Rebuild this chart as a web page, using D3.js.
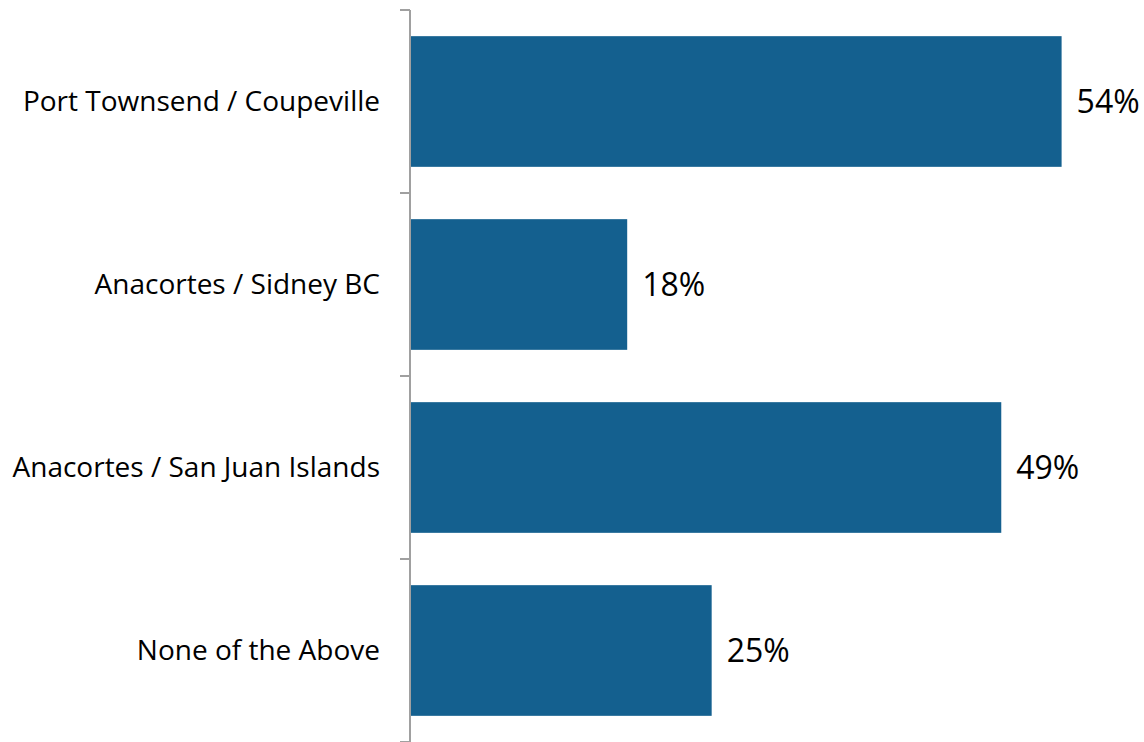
<!DOCTYPE html>
<html>
<head>
<meta charset="utf-8">
<script src="https://cdn.jsdelivr.net/npm/d3@7"></script>
<style>
  html, body { margin: 0; padding: 0; background: #fff; }
  svg { display: block; }
  text { font-family: "Open Sans", sans-serif; fill: #000; }
</style>
</head>
<body>
<svg id="chart" width="1144" height="742"></svg>
<script>
const categories = ["Port Townsend / Coupeville", "Anacortes / Sidney BC", "Anacortes / San Juan Islands", "None of the Above"];
const values = [54, 18, 49, 25];
const valueLabels = ["54%", "18%", "49%", "25%"];
const xDomain = [0, 60];

(function () {
const svg = d3.select("#chart");
const mLeft = 410, mTop = 10, mBottom = 742, mRight = 1134;

const y = d3.scaleBand().domain(categories).range([mTop, mBottom])
  .paddingInner(0.286).paddingOuter(0.143);
const x = d3.scaleLinear().domain(xDomain).range([mLeft, mRight]);

const data = categories.map((c, i) => ({ c, v: values[i], label: valueLabels[i] }));

svg.selectAll("rect.bar").data(data).enter().append("rect")
  .attr("class", "bar")
  .attr("x", x(0))
  .attr("y", d => y(d.c))
  .attr("width", d => x(d.v) - x(0))
  .attr("height", y.bandwidth())
  .attr("fill", "#14608f");

svg.append("line")
  .attr("x1", mLeft).attr("x2", mLeft)
  .attr("y1", mTop).attr("y2", mBottom)
  .attr("stroke", "#a0a0a0").attr("stroke-width", 2);

const step = y.step();
const bounds = d3.range(categories.length + 1).map(i => mTop + i * step);
svg.selectAll("line.tick").data(bounds).enter().append("line")
  .attr("class", "tick")
  .attr("x1", mLeft - 10).attr("x2", mLeft)
  .attr("y1", d => d).attr("y2", d => d)
  .attr("stroke", "#a0a0a0").attr("stroke-width", 2);

svg.selectAll("text.cat").data(data).enter().append("text")
  .attr("class", "cat")
  .attr("x", 380)
  .attr("y", d => y(d.c) + y.bandwidth() / 2)
  .attr("dy", "0.34em")
  .attr("text-anchor", "end")
  .attr("font-size", 28)
  .text(d => d.c);

svg.selectAll("text.val").data(data).enter().append("text")
  .attr("class", "val")
  .attr("x", d => x(d.v) + 15)
  .attr("y", d => y(d.c) + y.bandwidth() / 2)
  .attr("dy", "0.36em")
  .attr("font-size", 32)
  .text(d => d.label);
})();
</script>
</body>
</html>
